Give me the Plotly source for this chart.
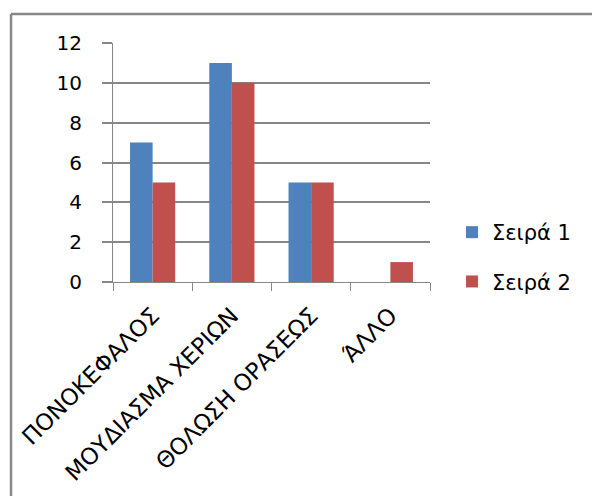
import plotly.graph_objects as go

categories = ["ΠΟΝΟΚΕΦΑΛΟΣ", "ΜΟΥΔΙΑΣΜΑ ΧΕΡΙΩΝ", "ΘΟΛΩΣΗ ΟΡΑΣΕΩΣ", "ΆΛΛΟ"]
series_1 = [7, 11, 5, 0]
series_2 = [5, 10, 5, 1]
y_ticks = [0, 2, 4, 6, 8, 10, 12]

W, H = 592, 496
L, R, T, B = 113, 430, 43, 282  # plot area edges in pixels

FONT = "DejaVu Sans"
GRID = "#868686"

fig = go.Figure()
fig.add_trace(go.Bar(x=categories, y=series_1, name="Σειρά 1",
                     marker=dict(color="#4F81BD", line=dict(width=0)),
                     legendgroup="a"))
fig.add_trace(go.Bar(x=categories, y=series_2, name="Σειρά 2",
                     marker=dict(color="#C0504D", line=dict(width=0)),
                     legendgroup="b"))


def px_x(px):
    return (px - L) / (R - L)


def px_y(py):
    return (B - py) / (B - T)


# outer frame: top and left edges
fig.add_shape(type="line", xref="paper", yref="paper",
              x0=px_x(11), x1=px_x(W + 5), y0=px_y(14), y1=px_y(14),
              line=dict(color="#888888", width=2.5))
fig.add_shape(type="line", xref="paper", yref="paper",
              x0=px_x(11), x1=px_x(11), y0=px_y(14), y1=px_y(H + 5),
              line=dict(color="#888888", width=2.5))

fig.update_layout(
    width=W, height=H,
    margin=dict(l=L, r=W - R, t=T, b=H - B),
    paper_bgcolor="white", plot_bgcolor="white",
    barmode="group", bargap=0.43, bargroupgap=0,
    font=dict(family=FONT, size=19, color="black"),
    showlegend=True,
    legend=dict(x=px_x(452), y=px_y(212), xanchor="left", yanchor="top",
                font=dict(size=21), tracegroupgap=19, traceorder="grouped",
                itemwidth=30, bgcolor="rgba(0,0,0,0)"),
    xaxis=dict(type="category", tickangle=-45, tickson="boundaries",
               ticks="outside", ticklen=8, tickcolor=GRID, tickwidth=1,
               showline=True, linecolor=GRID, linewidth=1,
               showgrid=False, tickfont=dict(size=23), ticklabelstandoff=10,
               automargin=False),
    yaxis=dict(range=[0, 12], tickvals=y_ticks, ticks="outside", ticklen=10,
               tickcolor=GRID, tickwidth=1.5, showline=True, linecolor=GRID,
               linewidth=1, gridcolor=GRID, gridwidth=1.5, zeroline=False,
               tickfont=dict(size=20), ticklabelstandoff=16, automargin=False),
)

fig.write_html("out.html")
